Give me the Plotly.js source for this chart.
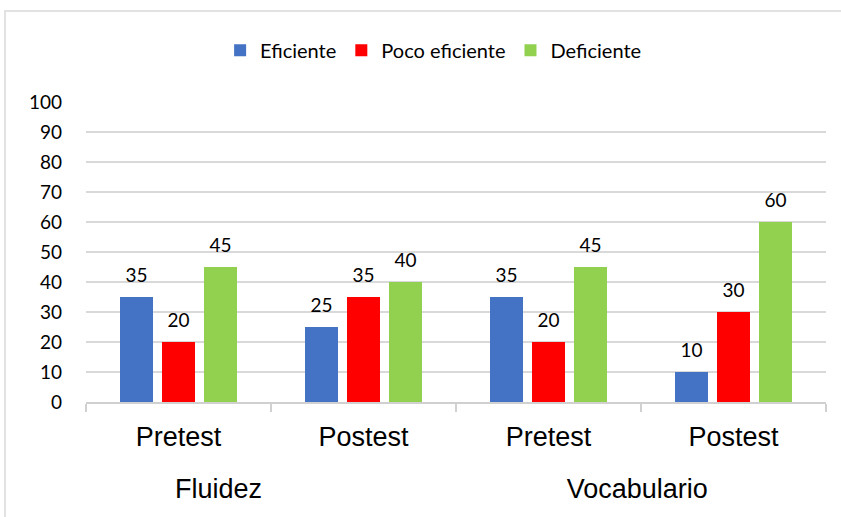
<!DOCTYPE html>
<html>
<head>
<meta charset="utf-8">
<script src="https://cdn.plot.ly/plotly-3.0.1.min.js"></script>
<style>html,body{margin:0;padding:0;background:#fff;}#chart{width:841px;height:517px;}</style>
</head>
<body>
<div id="chart"></div>
<script>
const groups = ["Fluidez", "Fluidez", "Vocabulario", "Vocabulario"];
const phases = ["Pretest", "Postest", "Pretest", "Postest"];
const seriesNames = ["Eficiente", "Poco eficiente", "Deficiente"];
const eficiente = [35, 25, 35, 10];
const pocoEficiente = [20, 35, 20, 30];
const deficiente = [45, 40, 45, 60];
const colors = ["#4472C4", "#FF0000", "#92D050"];
const yTicks = [0, 10, 20, 30, 40, 50, 60, 70, 80, 90, 100];

// phase labels with an empty small second line, to leave room above the group labels
const phaseLabels = phases.map(p => p + "<br><span style='font-size:6px'>&nbsp;</span>");
// group labels sit left of centre in the original; trailing spaces shift them
const groupPad = {"Fluidez": 14, "Vocabulario": 1};
const groupLabels = groups.map(g => g + "&nbsp;".repeat(groupPad[g] || 0));

const seriesValues = [eficiente, pocoEficiente, deficiente];
const traces = seriesValues.map((vals, i) => ({
  type: "bar",
  name: seriesNames[i],
  x: [groupLabels, phaseLabels],
  y: vals,
  text: vals.map(v => "<span style='font-size:19px'>" + v + "</span><br>&nbsp;"),
  textposition: "outside",
  textfont: {family: "Lato, 'Open Sans', sans-serif", size: 8, color: "#000"},
  constraintext: "none",
  marker: {color: colors[i]},
  cliponaxis: false,
  hoverinfo: "none"
}));

const layout = {
  width: 841, height: 517,
  margin: {l: 86, r: 15, t: 102, b: 115},
  paper_bgcolor: "#fff", plot_bgcolor: "#fff",
  bargap: 0.319, bargroupgap: 0.214,
  showlegend: true,
  legend: {
    orientation: "h", xref: "container", yref: "container",
    x: 0.515, xanchor: "center", y: 0.903, yanchor: "middle",
    font: {family: "Lato, 'Open Sans', sans-serif", size: 20, color: "#000"},
    traceorder: "normal", itemclick: false
  },
  xaxis: {
    type: "multicategory",
    showline: true, linecolor: "#d0d0d0", linewidth: 1.5,
    ticks: "outside", tickson: "boundaries", ticklen: 8, tickcolor: "#d0d0d0", tickwidth: 1.5,
    showdividers: false,
    ticklabelstandoff: 10,
    tickfont: {family: "'Liberation Sans', Arial, sans-serif", size: 27, color: "#000"},
    showgrid: false, zeroline: false
  },
  yaxis: {
    range: [0, 100], tickvals: yTicks, ticktext: yTicks.map(String),
    showgrid: true, gridcolor: "#d9d9d9", gridwidth: 1.5,
    zeroline: false, showline: false,
    ticklabelstandoff: 23,
    tickfont: {family: "Lato, 'Open Sans', sans-serif", size: 19, color: "#000"}
  },
  shapes: [{
    type: "rect", xref: "paper", yref: "paper",
    x0: -0.1095, x1: 1.2, y0: -0.6, y1: 1.3033,
    line: {color: "#d9d9d9", width: 1.5}, fillcolor: "rgba(0,0,0,0)", layer: "below"
  }]
};

Plotly.newPlot("chart", traces, layout, {displayModeBar: false, staticPlot: true});
</script>
</body>
</html>
